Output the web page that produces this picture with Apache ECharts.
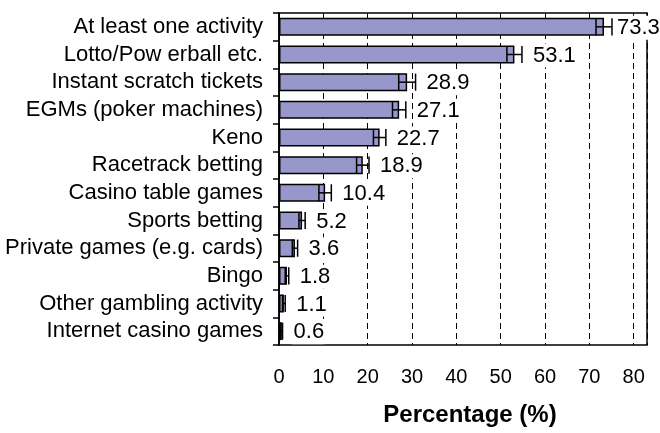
<!DOCTYPE html>
<html>
<head>
<meta charset="utf-8">
<script src="https://cdn.jsdelivr.net/npm/echarts@6/dist/echarts.min.js"></script>
<style>
html,body{margin:0;padding:0;background:#fff;}
#chart{width:660px;height:433px;}
</style>
</head>
<body>
<div id="chart"></div>
<script>
var categories = [
  "At least one activity",
  "Lotto/Pow erball etc.",
  "Instant scratch tickets",
  "EGMs (poker machines)",
  "Keno",
  "Racetrack betting",
  "Casino table games",
  "Sports betting",
  "Private games (e.g. cards)",
  "Bingo",
  "Other gambling activity",
  "Internet casino games"
];
var values = [73.3, 53.1, 28.9, 27.1, 22.7, 18.9, 10.4, 5.2, 3.6, 1.8, 1.1, 0.6];
var errors = [1.8, 1.7, 1.9, 1.5, 1.4, 1.4, 1.4, 0.7, 0.6, 0.4, 0.3, 0.2];
var xTicks = [0, 10, 20, 30, 40, 50, 60, 70, 80];

var FONT = '"Liberation Sans", Arial, sans-serif';

var errData = values.map(function (v, i) {
  return [v - errors[i], i, v + errors[i], v];
});

var chart = echarts.init(document.getElementById('chart'), null, {renderer: 'canvas'});
chart.setOption({
  animation: false,
  backgroundColor: '#fff',
  grid: {
    left: 279, right: 13, top: 13, bottom: 88,
    show: true, borderColor: '#000', borderWidth: 1.5,
    backgroundColor: 'transparent'
  },
  xAxis: {
    type: 'value', min: 0, max: 83, interval: 10,
    axisLine: {show: false},
    axisTick: {show: false},
    axisLabel: {
      showMaxLabel: false,
      color: '#000', fontSize: 20, fontFamily: FONT, margin: 22,
      formatter: function (v) { return xTicks.indexOf(v) >= 0 ? String(v) : ''; }
    },
    splitLine: {show: true, lineStyle: {color: '#000', width: 1, type: [6, 4]}},
    name: 'Percentage (%)',
    nameLocation: 'middle',
    nameGap: 58,
    nameTextStyle: {color: '#000', fontSize: 24, fontWeight: 'bold', fontFamily: FONT, padding: [0, 0, 0, 14]}
  },
  yAxis: {
    type: 'category', inverse: true, data: categories,
    axisLine: {show: true, lineStyle: {color: '#000', width: 1.5}},
    axisTick: {show: true, length: 6, lineStyle: {color: '#000', width: 1.5}},
    axisLabel: {interval: 0, color: '#000', fontSize: 22, fontFamily: FONT, margin: 16},
    splitLine: {show: false}
  },
  series: [
    {
      type: 'bar',
      data: values,
      barWidth: '65%',
      itemStyle: {color: '#9797cb', borderColor: '#000', borderWidth: 1.5},
      z: 2
    },
    {
      type: 'custom',
      data: errData,
      encode: {x: [0, 2], y: 1},
      z: 3,
      renderItem: function (params, api) {
        var lo = api.value(0), cat = api.value(1), hi = api.value(2), v = api.value(3);
        var pLo = api.coord([lo, cat]);
        var pHi = api.coord([hi, cat]);
        var h = api.size([0, 1])[1] * 0.62;
        var y = pLo[1];
        var ls = {stroke: '#000', lineWidth: 1.5};
        var tx = Math.min(pHi[0] + 9, api.getWidth() - 45);
        return {
          type: 'group',
          children: [
            {type: 'line', shape: {x1: pLo[0], y1: y, x2: pHi[0], y2: y}, style: ls},
            {type: 'line', shape: {x1: pLo[0], y1: y - h / 2, x2: pLo[0], y2: y + h / 2}, style: ls},
            {type: 'line', shape: {x1: pHi[0], y1: y - h / 2, x2: pHi[0], y2: y + h / 2}, style: ls},
            {type: 'text', z2: 10, style: {
              text: v.toFixed(1), x: tx, y: y + 1,
              fill: '#000', font: '22px ' + FONT,
              align: 'left', verticalAlign: 'middle',
              backgroundColor: '#fff', padding: [1, 1, 1, 2]
            }}
          ]
        };
      }
    }
  ]
});
</script>
</body>
</html>
